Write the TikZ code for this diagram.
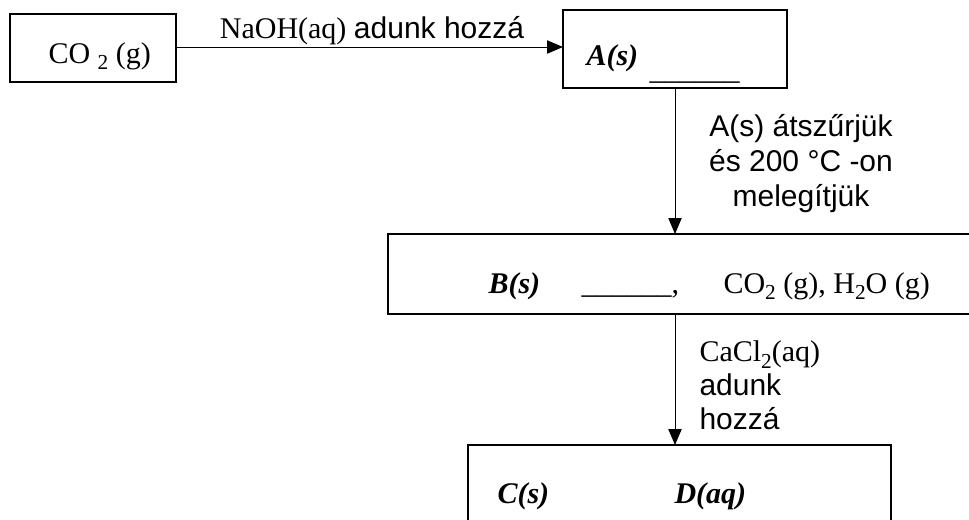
\documentclass[tikz,border=0pt]{standalone}
\usepackage{fontspec}
\setmainfont{Liberation Serif}
\setsansfont{Liberation Sans}
\usetikzlibrary{arrows.meta}
\tikzset{every picture/.style={line width=0.75pt}}
\tikzset{
  box/.style={draw, line width=1.5pt, inner sep=0pt, outer sep=0pt, anchor=north west},
  flow/.style={-{Triangle[length=12pt,width=10pt]}, line width=0.75pt},
  txt/.style={inner sep=0.75pt, anchor=base west, font=\fontsize{22.5}{26.25}\selectfont},
  sanstxt/.style={inner sep=0.75pt, font=\sffamily\fontsize{22.5}{26.25}\selectfont},
}
\newcommand\chemsub[1]{\raisebox{-0.5ex}[0pt][0pt]{\fontsize{16}{16}\selectfont #1}}

\begin{document}
\begin{tikzpicture}[x=0.75pt,y=0.75pt,yscale=-1,xscale=1]
\useasboundingbox (0,0) rectangle (969,519);
\clip (0,0) rectangle (969,519);
% Boxes
\node[box, minimum width=124.5pt, minimum height=51pt] (gas) at (10,14) {};
\node[box, minimum width=168pt, minimum height=58.5pt] (boxA) at (563,10) {};
\node[box, minimum width=459pt, minimum height=60pt] (boxB) at (388,234) {};
\node[box, minimum width=317.25pt, minimum height=86.25pt] (boxC) at (468,445) {};
% Box contents
\node[txt] (gastxt) at (47,63) {CO \chemsub{2} (g)};
\node[txt] (Atxt) at (585,65) {\textbf{\textit{A(s)}}};
\node[txt] (Ablank) at (648,79) {\_\_\_\_\_\_};
\node[txt] (Btxt) at (487,293) {\textbf{\textit{B(s)}}};
\node[txt] (Bblank) at (580,293) {\_\_\_\_\_\_,};
\node[txt] (Bgas) at (722,293) {CO\chemsub{2} (g), H\chemsub{2}O (g)};
\node[txt] (Ctxt) at (496,503) {\textbf{\textit{C(s)}}};
\node[txt] (Dtxt) at (673,503) {\textbf{\textit{D(aq)}}};
% Arrows
\draw[flow] (gas.east |- 0,47) -- (boxA.west |- 0,47);
\draw[flow] (boxA.south) -- (boxA.south |- boxB.north);
\draw[flow] (boxA.south |- boxB.south) -- (boxA.south |- boxC.north);
% Arrow labels
\node[txt] (naoh) at (372,38) [anchor=base] {NaOH(aq) \textsf{adunk hozzá}};
\node[sanstxt, align=center] (heat) at (801,164) {A(s) átszűrjük\\és 200 °C -on\\melegítjük};
\node[sanstxt, align=left, anchor=north west, font=\sffamily\fontsize{22.5}{25.5}\selectfont] (cacl) at (698,339) {\rmfamily CaCl\chemsub{2}(aq)\\adunk\\hozzá};
\end{tikzpicture}
\end{document}
